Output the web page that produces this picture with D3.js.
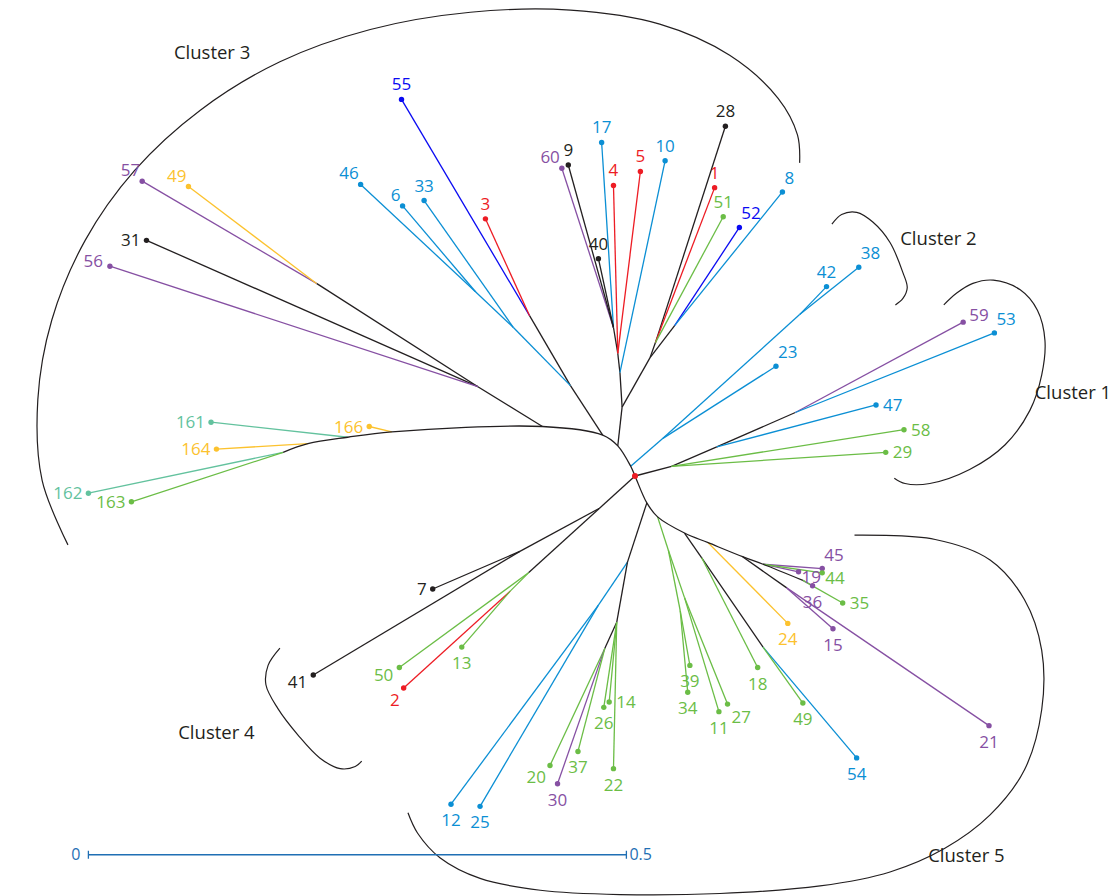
<!DOCTYPE html>
<html>
<head>
<meta charset="utf-8">
<script src="https://cdn.jsdelivr.net/npm/d3@7"></script>
<style>
  body { margin: 0; background: #fff; }
  text { font-family: "Open Sans", sans-serif; }
</style>
</head>
<body>
<svg id="chart" width="1114" height="896"></svg>
<script>
// unrooted tree, coordinates in substitutions per site, origin at the red dot, y pointing up

// internal nodes: id, parent, x, y, colour group
const internalNodes = [
  ["R", null, 0, 0, "black"],
  ["B0", "R", -0.004, 0.009, "black"],
  ["B1", "B0", 0.026, 0.035, "blue"],
  ["B2", "B1", 0.153, 0.150, "blue"],
  ["A", "B0", -0.016, 0.028, "black"],
  ["U1", "A", -0.012, 0.064, "black"],
  ["U2", "U1", -0.014, 0.096, "black"],
  ["U3", "U2", -0.016, 0.114, "black"],
  ["U4", "U3", -0.020, 0.138, "black"],
  ["W1", "U1", 0.014, 0.110, "black"],
  ["W3", "W1", 0.019, 0.124, "black"],
  ["W2", "W1", 0.037, 0.140, "black"],
  ["K1", "A", -0.030, 0.038, "black"],
  ["K2", "K1", -0.060, 0.084, "black"],
  ["K3", "K2", -0.098, 0.149, "black"],
  ["L2", "K2", -0.113, 0.138, "blue"],
  ["L3", "L2", -0.148, 0.171, "blue"],
  ["M1", "K1", -0.086, 0.046, "black"],
  ["M2", "M1", -0.146, 0.083, "black"],
  ["M3", "M2", -0.296, 0.179, "black"],
  ["N1", "M1", -0.226, 0.041, "black"],
  ["N2", "N1", -0.267, 0.036, "black"],
  ["N3", "N2", -0.304, 0.030, "black"],
  ["N4", "N3", -0.327, 0.022, "black"],
  ["C1", "R", 0.034, 0.009, "black"],
  ["C2", "C1", 0.076, 0.027, "black"],
  ["C3", "C2", 0.149, 0.059, "black"],
  ["D", "R", 0.011, -0.025, "black"],
  ["G1", "D", 0.021, -0.038, "black"],
  ["G2", "G1", 0.031, -0.069, "green"],
  ["G3", "G2", 0.042, -0.125, "green"],
  ["G4", "G2", 0.046, -0.113, "green"],
  ["H1", "G1", 0.046, -0.053, "black"],
  ["H2", "H1", 0.062, -0.076, "black"],
  ["H3", "H2", 0.119, -0.159, "black"],
  ["Y", "H1", 0.068, -0.062, "black"],
  ["P1", "Y", 0.100, -0.075, "black"],
  ["P2", "P1", 0.119, -0.082, "black"],
  ["P4", "P2", 0.156, -0.097, "black"],
  ["P3", "P1", 0.141, -0.104, "black"],
  ["E1", "D", -0.007, -0.080, "black"],
  ["E2", "E1", -0.034, -0.120, "blue"],
  ["E3", "E1", -0.017, -0.136, "black"],
  ["E4", "E3", -0.028, -0.160, "black"],
  ["F1", "R", -0.033, -0.030, "black"],
  ["F2", "F1", -0.107, -0.070, "black"],
  ["F3", "F1", -0.099, -0.090, "black"],
  ["F4", "F3", -0.116, -0.107, "green"]
];

// tips: key, label, parent, x, y, colour group
const tipNodes = [
  ["t55", "55", "K3", -0.217, 0.350, "dkblue"],
  ["t3", "3", "K3", -0.139, 0.239, "red"],
  ["t33", "33", "L2", -0.196, 0.256, "blue"],
  ["t46", "46", "L3", -0.255, 0.271, "blue"],
  ["t6", "6", "L3", -0.216, 0.251, "blue"],
  ["t17", "17", "U4", -0.031, 0.310, "blue"],
  ["t60", "60", "U4", -0.068, 0.286, "purple"],
  ["t9", "9", "U4", -0.062, 0.289, "black"],
  ["t40", "40", "U4", -0.034, 0.202, "black"],
  ["t4", "4", "U3", -0.020, 0.270, "red"],
  ["t5", "5", "U3", 0.005, 0.283, "red"],
  ["t10", "10", "U2", 0.028, 0.293, "blue"],
  ["t28", "28", "W3", 0.084, 0.325, "black"],
  ["t1", "1", "W3", 0.074, 0.268, "red"],
  ["t51", "51", "W3", 0.082, 0.241, "green"],
  ["t52", "52", "W2", 0.097, 0.231, "dkblue"],
  ["t8", "8", "W2", 0.137, 0.264, "blue"],
  ["t57", "57", "M3", -0.458, 0.274, "purple"],
  ["t49y", "49", "M3", -0.415, 0.269, "yellow"],
  ["t31", "31", "M2", -0.454, 0.219, "black"],
  ["t56", "56", "M2", -0.488, 0.195, "purple"],
  ["t166", "166", "N1", -0.247, 0.046, "yellow"],
  ["t161", "161", "N2", -0.394, 0.050, "teal"],
  ["t164", "164", "N3", -0.389, 0.025, "yellow"],
  ["t162", "162", "N4", -0.508, -0.016, "teal"],
  ["t163", "163", "N4", -0.468, -0.024, "green"],
  ["t23", "23", "B1", 0.131, 0.102, "blue"],
  ["t42", "42", "B2", 0.178, 0.176, "blue"],
  ["t38", "38", "B2", 0.208, 0.194, "blue"],
  ["t29", "29", "C1", 0.233, 0.022, "green"],
  ["t58", "58", "C1", 0.250, 0.043, "green"],
  ["t47", "47", "C2", 0.224, 0.066, "blue"],
  ["t59", "59", "C3", 0.305, 0.143, "purple"],
  ["t53", "53", "C3", 0.334, 0.133, "blue"],
  ["t45", "45", "P2", 0.174, -0.086, "purple"],
  ["t19", "19", "P2", 0.152, -0.089, "purple"],
  ["t44", "44", "P2", 0.174, -0.090, "green"],
  ["t36", "36", "P4", 0.165, -0.102, "purple"],
  ["t35", "35", "P4", 0.193, -0.118, "green"],
  ["t15", "15", "P3", 0.184, -0.142, "purple"],
  ["t21", "21", "P3", 0.329, -0.232, "purple"],
  ["t24", "24", "Y", 0.142, -0.137, "yellow"],
  ["t18", "18", "H2", 0.114, -0.178, "green"],
  ["t54", "54", "H3", 0.206, -0.262, "blue"],
  ["t49g", "49", "H3", 0.156, -0.211, "green"],
  ["t39", "39", "G3", 0.051, -0.176, "green"],
  ["t34", "34", "G3", 0.049, -0.201, "green"],
  ["t11", "11", "G4", 0.078, -0.219, "green"],
  ["t27", "27", "G4", 0.086, -0.212, "green"],
  ["t14", "14", "E3", -0.024, -0.210, "green"],
  ["t22", "22", "E3", -0.020, -0.272, "green"],
  ["t26", "26", "E3", -0.029, -0.215, "green"],
  ["t20", "20", "E4", -0.079, -0.269, "green"],
  ["t30", "30", "E4", -0.072, -0.286, "purple"],
  ["t37", "37", "E4", -0.053, -0.256, "green"],
  ["t12", "12", "E2", -0.171, -0.305, "blue"],
  ["t25", "25", "E2", -0.144, -0.307, "blue"],
  ["t7", "7", "F2", -0.188, -0.105, "black"],
  ["t41", "41", "F2", -0.299, -0.185, "black"],
  ["t50", "50", "F3", -0.219, -0.178, "green"],
  ["t2", "2", "F4", -0.215, -0.197, "red"],
  ["t13", "13", "F4", -0.161, -0.159, "green"]
];

// the smooth backbone through the middle of the tree
const spine = ["N4", "N3", "N2", "N1", "M1", "K1", "A", "B0", "R", "D", "G1", "H1", "Y", "P1", "P2", "P4"];

// where each tip label sits relative to its dot
const labelSide = {
  t55: "n", t3: "n", t33: "n", t46: "nw", t6: "nw", t17: "n", t60: "nw", t9: "n", t40: "n",
  t4: "n", t5: "n", t10: "n", t28: "n", t1: "n", t51: "n", t52: "ne", t8: "ne",
  t57: "nw", t49y: "nw", t31: "w", t56: "wn", t166: "w", t161: "w", t164: "w", t162: "w", t163: "w",
  t23: "ne", t42: "n", t38: "ne", t29: "e", t58: "e", t47: "e", t59: "en", t53: "ne",
  t45: "ne", t19: "es", t44: "es", t36: "s", t35: "e", t15: "s", t21: "s", t24: "s",
  t18: "s", t54: "s", t49g: "s", t39: "s", t34: "s", t11: "s", t27: "se",
  t14: "e", t22: "s", t26: "s", t20: "sw", t30: "s", t37: "s", t12: "s", t25: "s",
  t7: "w", t41: "ws", t50: "ws", t2: "sw", t13: "s"
};

// cluster brackets
const clusterNames = ["Cluster 1", "Cluster 2", "Cluster 3", "Cluster 4", "Cluster 5"];
const clusterLabelAt = [[0.407, 0.078], [0.282, 0.221], [-0.393, 0.394], [-0.389, -0.238], [0.308, -0.353]];
const cluster1Arc = [[0.287, 0.159], [0.299, 0.170], [0.314, 0.179], [0.333, 0.182], [0.358, 0.173], [0.374, 0.154],
  [0.381, 0.126], [0.378, 0.094], [0.367, 0.061], [0.344, 0.029], [0.311, 0.006], [0.274, -0.007], [0.251, -0.007], [0.241, -0.002]];
const cluster2Arc = [[0.183, 0.234], [0.192, 0.243], [0.206, 0.245], [0.221, 0.236], [0.237, 0.217], [0.249, 0.189],
  [0.253, 0.175], [0.249, 0.165], [0.242, 0.159]];
const cluster3Arc = [[-0.527, -0.064], [-0.551, -0.004], [-0.555, 0.071], [-0.542, 0.145], [-0.511, 0.219], [-0.465, 0.284],
  [-0.404, 0.340], [-0.330, 0.385], [-0.246, 0.415], [-0.153, 0.431], [-0.060, 0.433], [0.023, 0.420], [0.088, 0.391],
  [0.133, 0.351], [0.151, 0.317], [0.153, 0.291]];
const cluster4Arc = [[-0.330, -0.160], [-0.341, -0.176], [-0.343, -0.194], [-0.332, -0.216], [-0.313, -0.241],
  [-0.293, -0.262], [-0.274, -0.272], [-0.260, -0.270], [-0.254, -0.265]];
const cluster5Arc = [[0.204, -0.055], [0.279, -0.059], [0.330, -0.078], [0.362, -0.115], [0.378, -0.162], [0.378, -0.217],
  [0.362, -0.273], [0.330, -0.315], [0.288, -0.346], [0.237, -0.368], [0.172, -0.381], [0.079, -0.388], [-0.014, -0.389],
  [-0.088, -0.385], [-0.144, -0.374], [-0.181, -0.355], [-0.202, -0.332], [-0.211, -0.313]];

// scale bar
const scaleBarStart = [-0.508, -0.352];
const scaleBarTicks = [0, 0.5];

const colours = {
  black: "#231f20", red: "#ed1c24", dkblue: "#0a0af2", blue: "#0b8fd4",
  purple: "#8650a3", green: "#6bbd46", yellow: "#fcc22e", teal: "#63c29e"
};

const svg = d3.select("#chart");
const x = d3.scaleLinear().domain([0, 0.5]).range([635, 1173]);
const y = d3.scaleLinear().domain([0, 0.5]).range([476, -62]);

const byId = new Map();
internalNodes.forEach(d => byId.set(d[0], {id: d[0], parent: d[1], x: d[2], y: d[3], group: d[4]}));
tipNodes.forEach(d => byId.set(d[0], {id: d[0], label: d[1], parent: d[2], x: d[3], y: d[4], group: d[5], tip: true}));

const onSpine = new Set();
for (let i = 0; i < spine.length - 1; i++) {
  onSpine.add(spine[i] + "|" + spine[i + 1]);
  onSpine.add(spine[i + 1] + "|" + spine[i]);
}

const edges = [];
byId.forEach(n => {
  if (n.parent && !onSpine.has(n.id + "|" + n.parent)) edges.push({source: byId.get(n.parent), target: n});
});

const gEdges = svg.append("g").attr("fill", "none").attr("stroke-width", 1.3);

gEdges.selectAll("line")
  .data(edges)
  .join("line")
  .attr("x1", d => x(d.source.x))
  .attr("y1", d => y(d.source.y))
  .attr("x2", d => x(d.target.x))
  .attr("y2", d => y(d.target.y))
  .attr("stroke", d => colours[d.target.group]);

const smooth = d3.line()
  .x(d => x(d.x))
  .y(d => y(d.y))
  .curve(d3.curveCatmullRom.alpha(0.5));

gEdges.append("path")
  .attr("d", smooth(spine.map(id => byId.get(id))))
  .attr("stroke", colours.black);

// cluster brackets
const arcLine = d3.line()
  .x(d => x(d[0]))
  .y(d => y(d[1]))
  .curve(d3.curveCatmullRom.alpha(0.5));

svg.append("g")
  .selectAll("path")
  .data([cluster1Arc, cluster2Arc, cluster3Arc, cluster4Arc, cluster5Arc])
  .join("path")
  .attr("d", arcLine)
  .attr("fill", "none")
  .attr("stroke", colours.black)
  .attr("stroke-width", 1.2);

svg.append("g")
  .selectAll("text")
  .data(clusterNames)
  .join("text")
  .attr("x", (d, i) => x(clusterLabelAt[i][0]))
  .attr("y", (d, i) => y(clusterLabelAt[i][1]))
  .attr("dy", "0.35em")
  .attr("text-anchor", "middle")
  .attr("font-size", 18.5)
  .attr("fill", colours.black)
  .text(d => d);

// tips
const tips = Array.from(byId.values()).filter(d => d.tip);

svg.append("g")
  .selectAll("circle")
  .data(tips)
  .join("circle")
  .attr("cx", d => x(d.x))
  .attr("cy", d => y(d.y))
  .attr("r", 2.7)
  .attr("fill", d => colours[d.group]);

const sideOffset = {
  n: [0, -9, "middle"], s: [0, 22, "middle"], e: [7, 6, "start"], w: [-6, 6, "end"],
  ne: [2, -8, "start"], nw: [-2, -5, "end"], se: [4, 19, "start"], sw: [-4, 18, "end"],
  en: [6, -1, "start"], es: [3, 11, "start"], ws: [-6, 13, "end"], wn: [-7, 1, "end"]
};

svg.append("g")
  .selectAll("text")
  .data(tips)
  .join("text")
  .attr("x", d => x(d.x) + sideOffset[labelSide[d.id]][0])
  .attr("y", d => y(d.y) + sideOffset[labelSide[d.id]][1])
  .attr("text-anchor", d => sideOffset[labelSide[d.id]][2])
  .attr("font-size", 17)
  .attr("fill", d => colours[d.group])
  .text(d => d.label);

// root marker
const root = byId.get("R");
svg.append("circle")
  .attr("cx", x(root.x))
  .attr("cy", y(root.y))
  .attr("r", 3)
  .attr("fill", colours.red);

// scale bar
const barScale = d3.scaleLinear()
  .domain([0, 0.5])
  .range([x(scaleBarStart[0]), x(scaleBarStart[0] + 0.5)]);
const barY = y(scaleBarStart[1]);
const bar = svg.append("g").attr("stroke", "#1f6fb4").attr("stroke-width", 1.3);
bar.append("line")
  .attr("x1", barScale(0)).attr("x2", barScale(0.5))
  .attr("y1", barY).attr("y2", barY);
bar.selectAll(".tick")
  .data(scaleBarTicks)
  .join("line")
  .attr("class", "tick")
  .attr("x1", d => barScale(d)).attr("x2", d => barScale(d))
  .attr("y1", barY - 4).attr("y2", barY + 4);
svg.append("g")
  .selectAll("text")
  .data(scaleBarTicks)
  .join("text")
  .attr("x", d => barScale(d) + (d === 0 ? -8 : 3))
  .attr("y", barY)
  .attr("dy", "0.35em")
  .attr("text-anchor", d => d === 0 ? "end" : "start")
  .attr("font-size", 16)
  .attr("fill", "#1f6fb4")
  .text(d => d3.format("")(d));
</script>
</body>
</html>
